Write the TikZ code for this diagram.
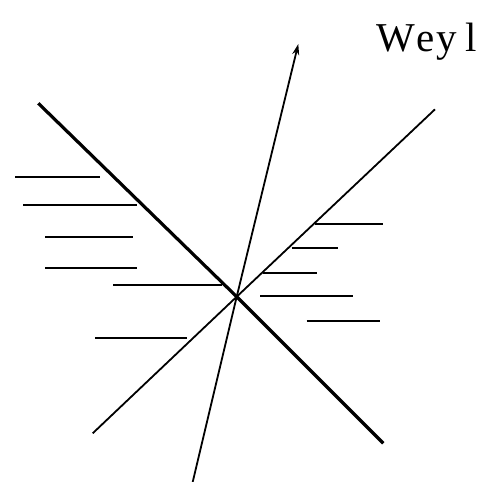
\documentclass[tikz,border=0pt]{standalone}
\usepackage{fontspec}
\setmainfont{Liberation Serif}
\usetikzlibrary{arrows.meta}

\begin{document}
\begin{tikzpicture}[x=1pt, y=-1pt,
                wall/.style={line width=3.2pt},
                ray/.style={line width=1.8pt},
                hatch/.style={line width=2.2pt},
                axis/.style={line width=1.8pt, -{Stealth[length=11pt, width=7pt]}},
                tag/.style={font=\fontsize{41}{41}\selectfont, inner sep=0pt, anchor=base east}]
                \useasboundingbox (0,0) rectangle (482,482);
                \coordinate (o) at (236.7,296.7);
                \coordinate (wallA) at (38.3,103.3);
                \coordinate (wallB) at (383.3,443.3);
                \coordinate (rayA) at (435,109.3);
                \coordinate (rayB) at (92.7,433.3);
                \coordinate (axisA) at (192.7,482);
                \coordinate (axisB) at (298.3,44);
                \node[tag] (weyl) at (477,51.7) {W\kern2pt e\kern2pt y\kern8pt l};

                \draw[wall] (wallA) -- (o) -- (wallB);
                \draw[ray] (rayA) -- (o) -- (rayB);
                \draw[axis] (axisA) -- (o) -- (axisB);

                % hatching, left and right
                \foreach \y/\xa/\xb in {176.7/15/100, 205/23.3/136.7, 237.3/45/133.3, 268.3/45/137.3,
                                        285/113.3/221.7, 337.7/95/186.7,
                                        224.3/315/383.3, 248.3/291.7/338.3, 273.3/263.3/316.7,
                                        296/260/353.3, 320.7/306.7/380}
                    \draw[hatch] (\xa,\y) -- (\xb,\y);
            \end{tikzpicture}
\end{document}
